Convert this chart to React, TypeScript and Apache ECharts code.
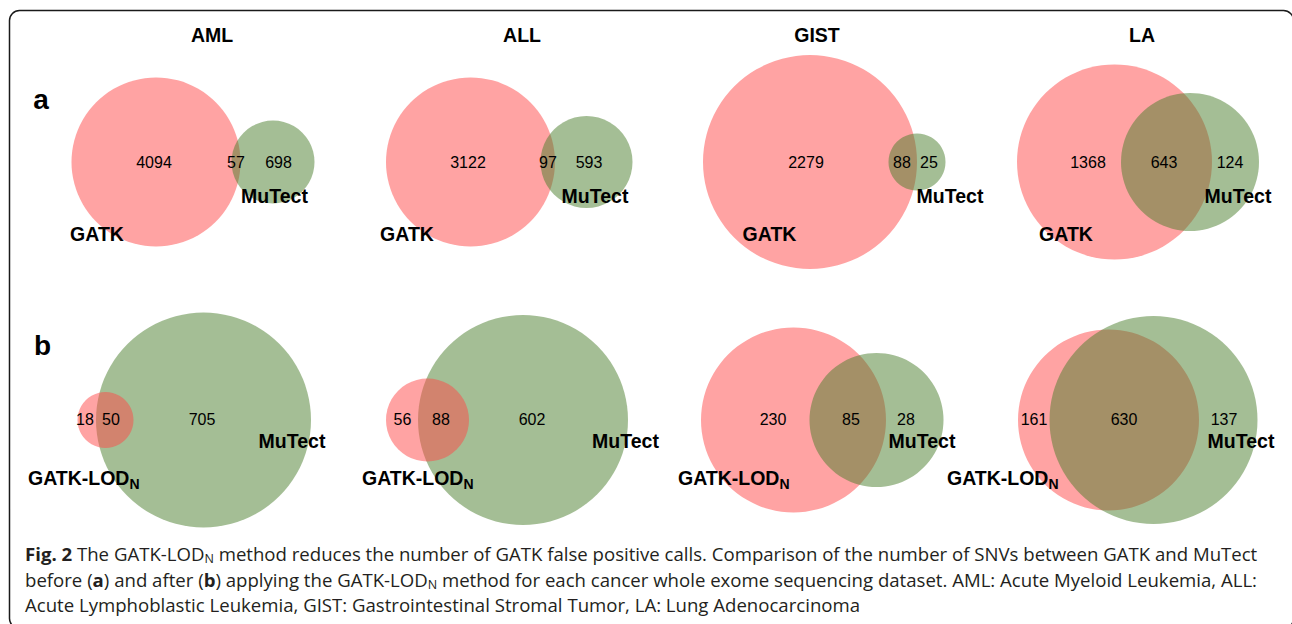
import React, { useEffect, useRef } from "react";
import * as echarts from "echarts";

// ---------- data ----------
const cancers = ["AML", "ALL", "GIST", "LA"];
// panel a: GATK vs MuTect
const gatkOnly = [4094, 3122, 2279, 1368];
const gatkShared = [57, 97, 88, 643];
const mutectOnlyA = [698, 593, 25, 124];
// panel b: GATK-LODN vs MuTect
const lodOnly = [18, 56, 230, 161];
const lodShared = [50, 88, 85, 630];
const mutectOnlyB = [705, 602, 28, 137];

const panelLetters = ["a", "b"];
const setNames = ["GATK", "MuTect", "GATK-LOD", "N"];

// ---------- layout (axis units) ----------
const rowCenterY = [162, 420];
const leftCxA = [156, 470.5, 810, 1114.5];
const leftRA = [84.5, 84.5, 107, 97.5];
const rightCxA = [273, 586.5, 917, 1190];
const rightRA = [41.5, 46, 28.5, 69];
const leftCxB = [105.5, 427.5, 793.5, 1108.5];
const leftRB = [28, 41.5, 92.5, 90.5];
const rightCxB = [203.5, 523, 876.5, 1153.5];
const rightRB = [107.5, 105, 67, 104];
const greenOnTopB = [false, false, true, true];

const numXA = [[154, 236, 278.5], [468, 548, 589], [806, 902, 929], [1088, 1164, 1230]];
const numXB = [[85, 111, 202], [402.5, 441, 532], [773, 851, 906], [1034, 1124, 1224]];
const numY = [162.5, 419];
const mutectXA = [274.5, 595, 950, 1238];
const mutectXB = [292, 625.5, 922, 1241];
const mutectY = [195.5, 440.5];
const gatkXA = [97, 407, 769.5, 1066];
const gatkY = 233.7;
const lodLeftXB = [28, 362, 678, 947];
const lodY = 478;
const titleX = [212, 522, 817, 1142];
const titleY = 35;
const letterX = [41, 42.5];
const letterY = [99.6, 345.3];

const RED = "rgba(255,71,71,0.5)";
const GREEN = "rgba(73,125,43,0.5)";
const FONT = '"Liberation Sans", Arial, Helvetica, sans-serif';
const CAP_FONT = '"Open Sans", "Noto Sans", sans-serif';
const CAP_SIZE = 18.6;

type Circle = { cx: number; cy: number; r: number; c: number };
const circles: Circle[] = [];
cancers.forEach((_, i) => {
  circles.push({ cx: leftCxA[i], cy: rowCenterY[0], r: leftRA[i], c: 0 });
  circles.push({ cx: rightCxA[i], cy: rowCenterY[0], r: rightRA[i], c: 1 });
  const red = { cx: leftCxB[i], cy: rowCenterY[1], r: leftRB[i], c: 0 };
  const green = { cx: rightCxB[i], cy: rowCenterY[1], r: rightRB[i], c: 1 };
  if (greenOnTopB[i]) circles.push(red, green);
  else circles.push(green, red);
});

type Lab = { x: number; y: number; text: string; kind: string };
const labels: Lab[] = [];
panelLetters.forEach((l, r) => labels.push({ x: letterX[r], y: letterY[r], text: l, kind: "letter" }));
cancers.forEach((c, i) => {
  labels.push({ x: titleX[i], y: titleY, text: c, kind: "title" });
  [gatkOnly[i], gatkShared[i], mutectOnlyA[i]].forEach((v, k) =>
    labels.push({ x: numXA[i][k], y: numY[0], text: String(v), kind: "num" })
  );
  [lodOnly[i], lodShared[i], mutectOnlyB[i]].forEach((v, k) =>
    labels.push({ x: numXB[i][k], y: numY[1], text: String(v), kind: "num" })
  );
  labels.push({ x: mutectXA[i], y: mutectY[0], text: setNames[1], kind: "set" });
  labels.push({ x: mutectXB[i], y: mutectY[1], text: setNames[1], kind: "set" });
  labels.push({ x: gatkXA[i], y: gatkY, text: setNames[0], kind: "set" });
  labels.push({
    x: lodLeftXB[i],
    y: lodY,
    text: `{m|${setNames[2]}}{s|${setNames[3]}}`,
    kind: "lod",
  });
});

const captionLines = [
  "{b|Fig. 2} The GATK-LOD{s|N} method reduces the number of GATK false positive calls. Comparison of the number of SNVs between GATK and MuTect",
  "before ({b|a}) and after ({b|b}) applying the GATK-LOD{s|N} method for each cancer whole exome sequencing dataset. AML: Acute Myeloid Leukemia, ALL:",
  "Acute Lymphoblastic Leukemia, GIST: Gastrointestinal Stromal Tumor, LA: Lung Adenocarcinoma",
];

function textStyle(l: Lab): any {
  const base: any = {
    text: l.text,
    fill: "#000",
    fontFamily: FONT,
    align: "center",
    verticalAlign: "middle",
    textAlign: "center",
    textVerticalAlign: "middle",
  };
  if (l.kind === "num") return { ...base, fontSize: 16 };
  if (l.kind === "title" || l.kind === "set") return { ...base, fontSize: 19.5, fontWeight: "bold" };
  if (l.kind === "letter") return { ...base, fontSize: 28, fontWeight: "bold" };
  // lod
  return {
    ...base,
    align: "left",
    textAlign: "left",
    lineHeight: 26,
    rich: {
      m: { fontSize: 19.5, fontWeight: "bold", fontFamily: FONT, fill: "#000", lineHeight: 26 },
      s: { fontSize: 14, fontWeight: "bold", fontFamily: FONT, fill: "#000", lineHeight: 26, padding: [11, 0, 0, 0] },
    },
  };
}

const option: any = {
  animation: false,
  grid: { left: 0, right: 0, top: 0, bottom: 0 },
  xAxis: { type: "value", min: 0, max: 1292, show: false },
  yAxis: { type: "value", min: 0, max: 624, inverse: true, show: false },
  series: [
    {
      type: "custom",
      silent: true,
      clip: false,
      data: circles.map((c) => [c.cx, c.cy, c.r, c.c]),
      renderItem: (params: any, api: any) => {
        const p = api.coord([api.value(0), api.value(1)]);
        const s = api.size([api.value(2), api.value(2)]);
        return {
          type: "circle",
          shape: { cx: p[0], cy: p[1], r: s[0] },
          style: { fill: api.value(3) === 0 ? RED : GREEN },
          z2: params.dataIndex,
        };
      },
    },
    {
      type: "custom",
      silent: true,
      clip: false,
      z: 5,
      data: labels.map((l) => [l.x, l.y]),
      renderItem: (params: any, api: any) => {
        const l = labels[params.dataIndex];
        const p = api.coord([api.value(0), api.value(1)]);
        return { type: "text", x: p[0], y: p[1], style: textStyle(l) };
      },
    },
  ],
  graphic: [
    {
      type: "rect",
      silent: true,
      shape: { x: 9.5, y: 10.5, width: 1284, height: 618, r: 10 },
      style: { fill: "none", stroke: "#1a1a1a", lineWidth: 1.5 },
    },
    {
      type: "text",
      silent: true,
      x: 25,
      y: 541,
      style: {
        text: captionLines.join("\n"),
        fontSize: CAP_SIZE,
        fontFamily: CAP_FONT,
        fill: "#231f20",
        lineHeight: 25.5,
        align: "left",
        verticalAlign: "top",
        textAlign: "left",
        textVerticalAlign: "top",
        rich: {
          b: { fontSize: CAP_SIZE, fontWeight: "bold", fontFamily: CAP_FONT, fill: "#231f20", lineHeight: 25.5 },
          s: { fontSize: 12.5, fontFamily: CAP_FONT, fill: "#231f20", lineHeight: 25.5, padding: [10, 0, 0, 0] },
        },
      },
    },
  ],
};

export default function App() {
  const ref = useRef<HTMLDivElement>(null);
  useEffect(() => {
    document.body.style.margin = "0";
    const chart = echarts.init(ref.current!, null, { renderer: "svg" });
    chart.setOption(option);
    return () => chart.dispose();
  }, []);
  return <div ref={ref} style={{ width: 1292, height: 624 }} />;
}
